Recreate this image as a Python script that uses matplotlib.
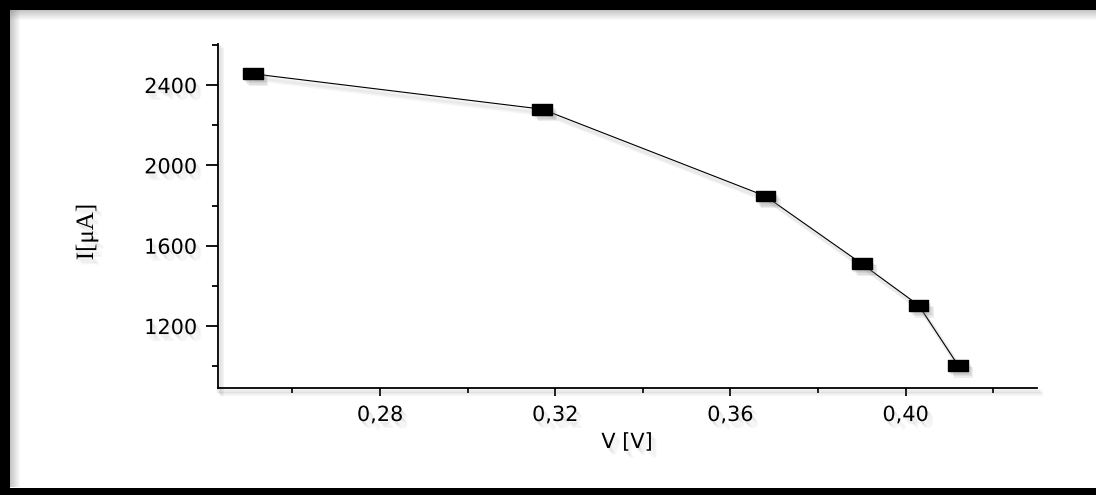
import matplotlib
matplotlib.use("Agg")
import matplotlib.pyplot as plt
import matplotlib.patheffects as pe
from matplotlib.patches import Rectangle
from matplotlib.ticker import FixedLocator

# data
voltage = [0.251, 0.317, 0.368, 0.390, 0.403, 0.412]
current = [2456, 2280, 1847, 1510, 1303, 1004]

x_ticks = [0.28, 0.32, 0.36, 0.40]
x_labels = ["0,28", "0,32", "0,36", "0,40"]
x_minor = [0.26, 0.30, 0.34, 0.38, 0.42]
y_ticks = [1200, 1600, 2000, 2400]
y_labels = ["1200", "1600", "2000", "2400"]
y_minor = [1000, 1400, 1800, 2200, 2600]

W, H = 1096, 495
fig = plt.figure(figsize=(W / 100, H / 100), dpi=100)
fig.patch.set_facecolor("white")

# black frame around the picture, with a soft inner shade
def px_rect(x0, y0, w, h, color, alpha=1.0):
    fig.patches.append(Rectangle((x0 / W, 1 - (y0 + h) / H), w / W, h / H,
                                 transform=fig.transFigure, facecolor=color,
                                 edgecolor="none", alpha=alpha, zorder=0))

for k in range(10):
    a = 0.45 * (1 - k / 10)
    px_rect(10, 10 + k, W - 10, 1, "gray", a)
    px_rect(10 + k, 10, 1, H - 18, "gray", a)
px_rect(0, 0, W, 10, "black")
px_rect(0, 0, 10, H, "black")
px_rect(0, 488, W, 7, "black")

# soft (fake blurred) drop shadows
def soft_patch(alpha):
    return [pe.SimplePatchShadow(offset=(d, -d - 1), shadow_rgbFace="gray", alpha=alpha)
            for d in (1, 2, 3, 4)] + [pe.Normal()]

def soft_line(alpha, lw):
    return [pe.SimpleLineShadow(offset=(d, -d - 1), shadow_color="gray", alpha=alpha,
                                linewidth=lw)
            for d in (1, 2, 3)] + [pe.Normal()]

shadow_txt = soft_patch(0.07)
shadow_mark = soft_patch(0.13)
shadow_line = soft_line(0.06, 3)

ax = fig.add_axes([218 / W, 1 - 388.3 / H, (1037 - 218) / W, (388.3 - 44.3) / H])
ax.set_facecolor("none")

ax.plot(voltage, current, color="black", lw=0.8, path_effects=shadow_line)
rect_marker = [(-1, -0.55), (1, -0.55), (1, 0.55), (-1, 0.55), (-1, -0.55)]
ax.plot(voltage, current, linestyle="none", marker=rect_marker, markersize=14,
        color="black", path_effects=shadow_mark)

ax.set_xlim(0.243, 0.430)
ax.set_ylim(890, 2603)

for s in ["top", "right"]:
    ax.spines[s].set_visible(False)
for s in ["left", "bottom"]:
    ax.spines[s].set_linewidth(1.3)
    ax.spines[s].set_path_effects(soft_line(0.08, 3))

ax.xaxis.set_major_locator(FixedLocator(x_ticks))
ax.xaxis.set_minor_locator(FixedLocator(x_minor))
ax.set_xticklabels(x_labels)
ax.yaxis.set_major_locator(FixedLocator(y_ticks))
ax.yaxis.set_minor_locator(FixedLocator(y_minor))
ax.set_yticklabels(y_labels)

ax.tick_params(axis="x", which="major", length=6, width=1.3, pad=6, labelsize=15)
ax.tick_params(axis="x", which="minor", length=3.5, width=1.3)
ax.tick_params(axis="y", which="major", length=9, width=1.3, pad=6, labelsize=15)
ax.tick_params(axis="y", which="minor", length=4.5, width=1.3)

for lab in ax.get_xticklabels() + ax.get_yticklabels():
    lab.set_family("DejaVu Sans")
    lab.set_path_effects(shadow_txt)

fig.text(627 / W, 1 - 442 / H, "V [V]", fontsize=15, family="DejaVu Sans",
         ha="center", va="center", path_effects=shadow_txt)
fig.text(87 / W, 1 - 232 / H, "I[\u03bcA]", fontsize=18, family="Liberation Serif",
         rotation=90, ha="center", va="center", path_effects=shadow_txt)

fig.savefig("out.png", dpi=100)
